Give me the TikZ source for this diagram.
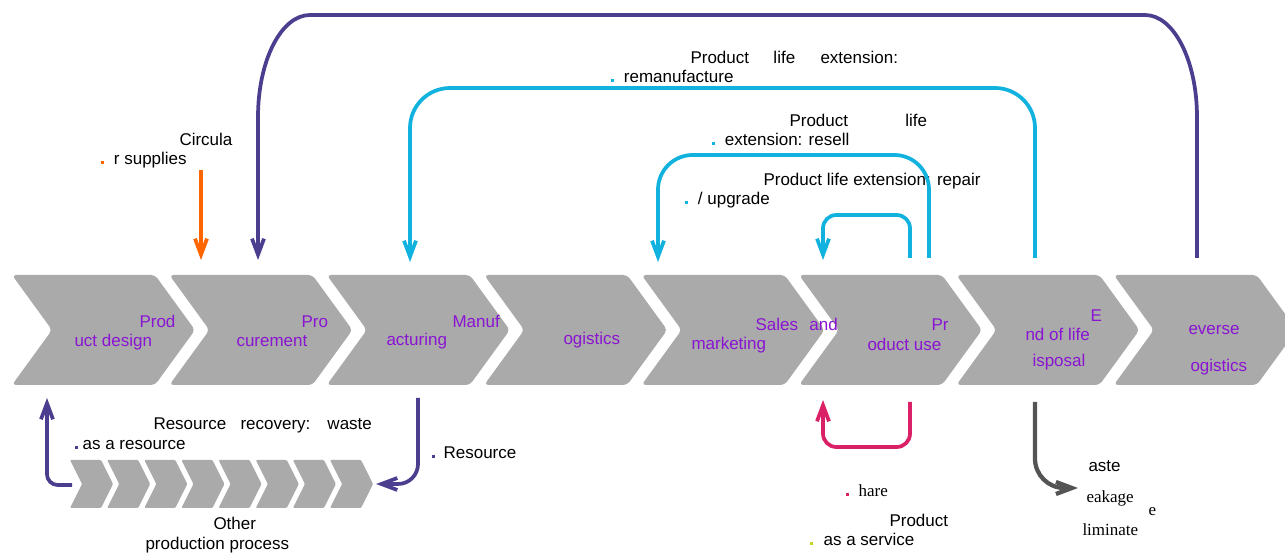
\documentclass[tikz,border=0pt]{standalone}
\usepackage{fontspec}
\setmainfont{Liberation Sans}
\newfontfamily\serifpart{Liberation Serif}
\usetikzlibrary{arrows.meta}

\definecolor{stagegray}{RGB}{170,170,170}
\definecolor{stagetext}{RGB}{138,20,210}
\definecolor{loopviolet}{RGB}{76,62,142}
\definecolor{loopcyan}{RGB}{18,178,222}
\definecolor{supplyorange}{RGB}{255,102,0}
\definecolor{sharepink}{RGB}{218,32,102}
\definecolor{wastegray}{RGB}{84,84,84}
\definecolor{serviceyellow}{RGB}{196,212,40}

\newcommand{\bdot}[1]{\textcolor{#1}{\rule[1.1pt]{2.2pt}{2.2pt}}}

\tikzset{every picture/.style={line width=0.75pt}}
\tikzset{
  every node/.style={font=\fontsize{12.75}{15}\selectfont},
  stage/.style={fill=stagegray, rounded corners=3pt},
  substage/.style={fill=stagegray, rounded corners=0.8pt},
  stagelabel/.style={anchor=base west, inner sep=0pt, text=stagetext},
  flowlabel/.style={anchor=base west, inner sep=0pt},
  flow/.style={line width=2.8pt, -{Straight Barb[length=12pt,width=9pt]}},
}

\begin{document}
\begin{tikzpicture}[x=0.75pt,y=0.75pt,yscale=-1,xscale=1]
\useasboundingbox (0,0) rectangle (1285,555);

%Value chain stages
\foreach \i in {0,...,7} {
  \path [stage] ({12+157.4*\i},275) -- ++(143,0) -- ++(40,55) -- ++(-40,55) -- ++(-143,0) -- ++(40,-55) -- cycle;
}
%Other production process
\foreach \i in {0,...,7} {
  \path [substage] ({70+37.15*\i},460) -- ++(31,0) -- ++(12,24) -- ++(-12,24) -- ++(-31,0) -- ++(12,-24) -- cycle;
}

% Text Node
\draw (139,328) node (designA) [stagelabel] {Prod};
% Text Node
\draw (74,347) node (designB) [stagelabel] {uct design};
% Text Node
\draw (301,328) node (procA) [stagelabel] {Pro};
% Text Node
\draw (236,347) node (procB) [stagelabel] {curement};
% Text Node
\draw (452,328) node (manufA) [stagelabel] {Manuf};
% Text Node
\draw (386,346) node (manufB) [stagelabel] {acturing};
% Text Node
\draw (563,345) node (logi) [stagelabel] {ogistics};
% Text Node
\draw (755,331) node (salesA) [stagelabel] {Sales\hspace{8.6pt}and};
% Text Node
\draw (691,350) node (salesB) [stagelabel] {marketing};
% Text Node
\draw (931,331) node (useA) [stagelabel] {Pr};
% Text Node
\draw (867,351) node (useB) [stagelabel] {oduct use};
% Text Node
\draw (1090,322) node (eolA) [stagelabel] {E};
% Text Node
\draw (1025,341) node (eolB) [stagelabel] {nd of life};
% Text Node
\draw (1032,367) node (eolC) [stagelabel] {isposal};
% Text Node
\draw (1188,335) node (rlogA) [stagelabel] {everse};
% Text Node
\draw (1190,372) node (rlogB) [stagelabel] {ogistics};

% Text Node
\draw (179,146) node (circA) [flowlabel] {Circula};
% Text Node
\draw (100.5,165) node (circB) [flowlabel] {\bdot{supplyorange}\hspace{7.5pt}r supplies};
% Text Node
\draw (690,64) node (remanA) [flowlabel] {Product\hspace{18.3pt}life\hspace{19pt}extension:};
% Text Node
\draw (610.5,83) node (remanB) [flowlabel] {\bdot{loopcyan}\hspace{7.5pt}remanufacture};
% Text Node
\draw (789,127) node (resellA) [flowlabel] {Product\hspace{43pt}life};
% Text Node
\draw (711.5,146) node (resellB) [flowlabel] {\bdot{loopcyan}\hspace{7.5pt}extension: resell};
% Text Node
\draw (763,186) node (repairA) [flowlabel] {Product life extension: repair};
% Text Node
\draw (684.5,205) node (repairB) [flowlabel] {\bdot{loopcyan}\hspace{7.5pt}/ upgrade};
% Text Node
\draw (153,430) node (recovA) [flowlabel] {Resource\hspace{10.7pt}recovery:\hspace{12.8pt}waste};
% Text Node
\draw (74.5,450) node (recovB) [flowlabel] {\bdot{loopviolet}\hspace{3.5pt}as a resource};
% Text Node
\draw (431.5,459) node (resrc) [flowlabel] {\bdot{loopviolet}\hspace{6.5pt}Resource};
% Text Node
\draw (213,530) node (otherA) [flowlabel] {Other};
% Text Node
\draw (145,550) node (otherB) [flowlabel] {production process};
% Text Node
\draw (845.5,497) node (share) [flowlabel] {\bdot{sharepink}\hspace{7.2pt}\serifpart hare};
% Text Node
\draw (889,527) node (paasA) [flowlabel] {Product};
% Text Node
\draw (809.5,546) node (paasB) [flowlabel] {\bdot{serviceyellow}\hspace{8pt}as a service};
% Text Node
\draw (1088,472) node (wasteA) [flowlabel] {aste};
% Text Node
\draw (1086,503) node (wasteB) [flowlabel] {\serifpart eakage};
% Text Node
\draw (1148,516) node (wasteC) [flowlabel] {\serifpart e};
% Text Node
\draw (1082,536) node (wasteD) [flowlabel] {\serifpart liminate};

%Arrow ends
\coordinate (circ-src) at (201,170);
\coordinate (proc-top) at (201,260);
\coordinate (rlog-top) at (1197,258);
\coordinate (proc-in) at (258,260);
\coordinate (eol-top) at (1035,258);
\coordinate (manuf-in) at (410,262);
\coordinate (use-out-b) at (929,258);
\coordinate (sales-in) at (658,262);
\coordinate (use-out-a) at (910,258);
\coordinate (use-in) at (823,260);
\coordinate (use-bot) at (910,402);
\coordinate (use-in-b) at (823,400);
\coordinate (eol-bot) at (1035,402);
\coordinate (leak-in) at (1078,488);
\coordinate (manuf-bot) at (418,398);
\coordinate (other-in) at (376,484);
\coordinate (other-out) at (72,485);
\coordinate (design-in) at (47,398);

%Circular supplies
\draw [flow, supplyorange] (circ-src) -- (proc-top);
%Reverse logistics loop
\draw [flow, loopviolet] (rlog-top) -- (1197,117) .. controls (1197,61) and (1174,15) .. (1145,15) -- (310,15) .. controls (281,15) and (258,61) .. (258,117) -- (proc-in);
%Remanufacture
\draw [flow, loopcyan, rounded corners=30pt] (eol-top) -- ++(0,-170) -| (manuf-in);
%Resell
\draw [flow, loopcyan, rounded corners=26pt] (use-out-b) -- ++(0,-103) -| (sales-in);
%Repair
\draw [flow, loopcyan, rounded corners=10pt] (use-out-a) -- ++(0,-43) -| (use-in);
%Share
\draw [flow, sharepink, rounded corners=10pt] (use-bot) -- ++(0,45) -| (use-in-b);
%Waste leakage
\draw [flow, wastegray, line width=3.2pt, rounded corners=22pt] (eol-bot) |- (leak-in);
%Resource recovery
\draw [flow, loopviolet, rounded corners=15pt] (manuf-bot) |- (other-in);
\draw [flow, loopviolet, rounded corners=8pt] (other-out) -| (design-in);

\end{tikzpicture}
\end{document}
